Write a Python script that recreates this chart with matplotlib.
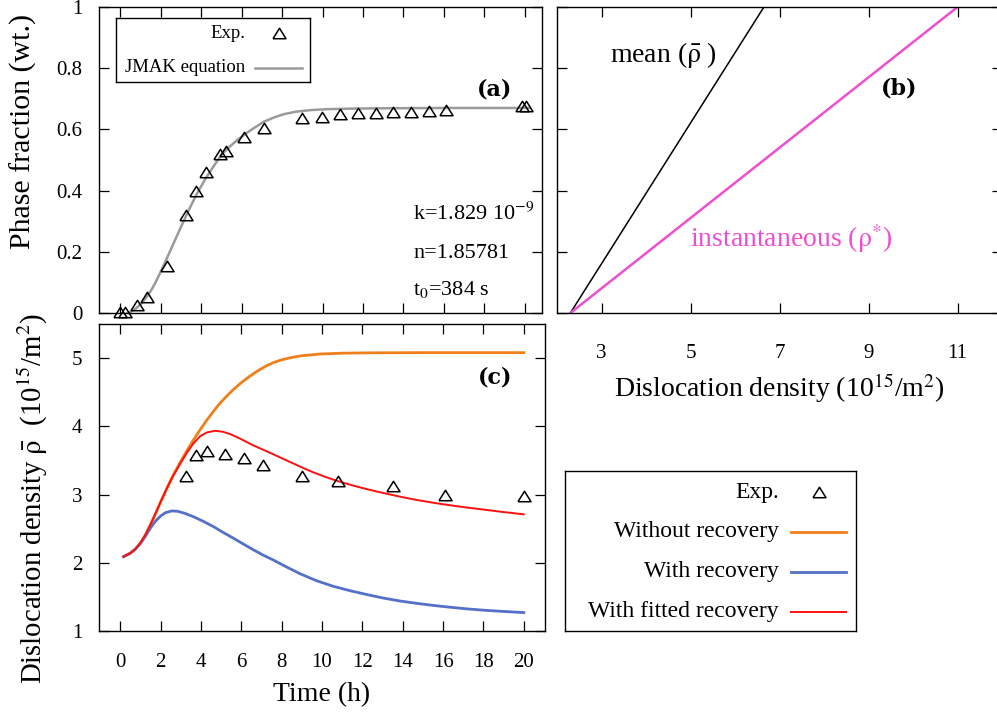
import matplotlib
matplotlib.use('Agg')
import matplotlib.pyplot as plt

plt.rcParams['font.family'] = 'Liberation Serif'
plt.rcParams['mathtext.fontset'] = 'stix'

W, H = 997, 715

# (a) phase fraction vs time
t_exp_a = [0.0, 0.25, 0.82, 1.32, 2.31, 3.27, 3.76, 4.26, 4.95, 5.21, 6.14, 7.1,
           8.99, 9.99, 10.86, 11.75, 12.62, 13.5, 14.39, 15.26, 16.12, 19.84, 20.05]
frac_exp = [0.003, 0.003, 0.026, 0.051, 0.155, 0.32, 0.399, 0.46, 0.52, 0.53, 0.576, 0.606,
            0.636, 0.642, 0.649, 0.653, 0.655, 0.658, 0.658, 0.661, 0.663, 0.676, 0.676]
t_jmak = [0.35, 0.6, 0.85, 1.1, 1.35, 1.6, 1.85, 2.0, 2.3, 2.64, 3.0, 3.4, 3.8, 4.2, 4.6,
          5.0, 5.4, 5.8, 6.2, 6.6, 7.1, 7.6, 8.1, 8.7, 9.4, 10.2, 11.5, 13.0, 16.0, 20.2]
frac_jmak = [0.0, 0.007, 0.019, 0.035, 0.056, 0.082, 0.114, 0.135, 0.178, 0.228, 0.281,
             0.338, 0.391, 0.437, 0.478, 0.517, 0.543, 0.566, 0.586, 0.604, 0.625, 0.639,
             0.650, 0.658, 0.663, 0.666, 0.668, 0.669, 0.67, 0.67]

# (b) phase fraction vs dislocation density
frac_b = [0.0, 1.0]
rho_mean = [2.3, 6.65]
rho_inst = [2.3, 11.0]

# (c) mean dislocation density vs time
t_exp_c = [3.27, 3.76, 4.29, 5.2, 6.15, 7.1, 8.99, 10.81, 13.5, 16.09, 20.0]
rho_exp = [3.275, 3.58, 3.64, 3.59, 3.53, 3.44, 3.27, 3.20, 3.13, 3.00, 2.98]

t_norec = [0.17, 0.5, 0.75, 1.0, 1.25, 1.5, 1.75, 2.0, 2.31, 2.6, 2.97, 3.3, 3.63, 3.96,
           4.29, 4.62, 4.95, 5.3, 5.61, 6.0, 6.4, 6.8, 7.2, 7.6, 8.0, 8.5, 9.0, 9.9,
           11.0, 12.5, 15.0, 20.0]
rho_norec = [2.09, 2.14, 2.20, 2.29, 2.41, 2.56, 2.72, 2.89, 3.09, 3.27, 3.47, 3.64, 3.80,
             3.95, 4.09, 4.22, 4.34, 4.45, 4.54, 4.64, 4.73, 4.81, 4.88, 4.935, 4.975,
             5.01, 5.035, 5.06, 5.072, 5.078, 5.08, 5.08]

t_rec = [0.17, 0.5, 0.75, 1.0, 1.25, 1.5, 1.75, 2.0, 2.25, 2.56, 2.85, 3.2, 3.63, 4.1,
         4.62, 5.1, 5.61, 6.1, 6.6, 7.1, 7.59, 8.2, 8.91, 9.7, 10.56, 11.4, 12.21, 13.0,
         13.86, 14.7, 15.51, 16.3, 17.16, 18.0, 18.81, 20.0]
rho_rec = [2.09, 2.14, 2.20, 2.28, 2.39, 2.51, 2.61, 2.685, 2.735, 2.76, 2.755, 2.725,
           2.675, 2.61, 2.53, 2.445, 2.36, 2.275, 2.19, 2.11, 2.04, 1.945, 1.84, 1.74,
           1.655, 1.59, 1.535, 1.485, 1.44, 1.405, 1.375, 1.35, 1.325, 1.305, 1.29, 1.27]

t_fit = [0.17, 0.5, 0.75, 1.0, 1.25, 1.5, 1.75, 2.0, 2.31, 2.6, 2.97, 3.3, 3.63, 3.96,
         4.29, 4.7, 5.1, 5.5, 5.94, 6.6, 7.1, 7.59, 8.1, 8.58, 9.1, 9.57, 10.2, 10.81,
         11.5, 12.21, 13.0, 13.86, 14.7, 15.51, 16.3, 17.16, 18.0, 18.81, 20.0]
rho_fit = [2.09, 2.14, 2.20, 2.29, 2.41, 2.56, 2.72, 2.89, 3.09, 3.26, 3.45, 3.61, 3.75,
           3.855, 3.91, 3.935, 3.92, 3.88, 3.82, 3.72, 3.655, 3.59, 3.52, 3.455, 3.385,
           3.325, 3.255, 3.195, 3.135, 3.08, 3.025, 2.97, 2.92, 2.88, 2.845, 2.81, 2.78,
           2.75, 2.71]

time_ticks = list(range(0, 21, 2))
frac_ticks = [0, 0.2, 0.4, 0.6, 0.8, 1]
frac_labels = ['0', '0.2', '0.4', '0.6', '0.8', '1']
rho_ticks = [3, 5, 7, 9, 11]
rho_c_ticks = [1, 2, 3, 4, 5]

GRAY = '#9a9a9a'
ORANGE = '#ef7f1a'
BLUE = '#5470c8'
RED = '#ff1010'
PINK = '#ee4fd0'

# open triangle, centred on its bounding box
tri = [(-1, -0.8), (1, -0.8), (0, 0.8), (-1, -0.8)]
tri_style = dict(marker=tri, ms=9.4, mfc='none', mec='black', mew=1.1, ls='none',
                 clip_on=False)


def px_rect(x0, y0, x1, y1):
    return [x0 / W, 1 - y1 / H, (x1 - x0) / W, (y1 - y0) / H]


def style(ax):
    ax.tick_params(direction='in', length=7.5, width=0.9, top=True, right=True,
                   labelsize=15, pad=12, colors='black')
    ax.tick_params(axis='x', pad=16)
    for s in ax.spines.values():
        s.set_linewidth(1.0)


def draw_key(box, rows, fontsize, text_right, samp0, samp1):
    kax = fig.add_axes(px_rect(*box))
    kax.set_xlim(box[0], box[2])
    kax.set_ylim(box[3], box[1])
    kax.set_xticks([])
    kax.set_yticks([])
    for s in kax.spines.values():
        s.set_linewidth(1.0)
    for y, label, color, lw in rows:
        kax.text(text_right, y, label, ha='right', va='center', fontsize=fontsize)
        if color is None:
            kax.plot([(samp0 + samp1) / 2], [y], **tri_style)
        else:
            kax.plot([samp0, samp1], [y, y], color=color, lw=lw)


fig = plt.figure(figsize=(W / 100, H / 100), dpi=100)

ax_a = fig.add_axes(px_rect(99, 7, 542, 313))
ax_b = fig.add_axes(px_rect(557, 7, 1002, 313))
ax_c = fig.add_axes(px_rect(99, 324, 545, 631))

panel_font = dict(fontsize=16, family='DejaVu Serif', weight='bold',
                  ha='center', va='center')

# (a)
ax_a.plot(t_jmak, frac_jmak, color=GRAY, lw=1.8)
ax_a.plot(t_exp_a, frac_exp, **tri_style)
ax_a.set_xlim(-1.05, 20.85)
ax_a.set_ylim(0, 1)
ax_a.set_xticks(time_ticks)
ax_a.set_yticks(frac_ticks)
ax_a.set_yticklabels(frac_labels)
style(ax_a)
ax_a.tick_params(labelbottom=False)
ax_a.set_ylabel('Phase fraction (wt.)', fontsize=21.5)
ax_a.yaxis.set_label_coords(-0.14, 0.593)
ax_a.text(0.894, 0.729, '(a)', transform=ax_a.transAxes, **panel_font)
ax_a.text(0.709, 0.304, r'k=1.829 10$^{-9}$', transform=ax_a.transAxes, fontsize=16)
ax_a.text(0.709, 0.180, 'n=1.85781', transform=ax_a.transAxes, fontsize=16)
ax_a.text(0.709, 0.059, r't$_0$=384 s', transform=ax_a.transAxes, fontsize=16)

# (b)
ax_b.plot(rho_mean, frac_b, color='black', lw=1.1)
ax_b.plot(rho_inst, frac_b, color=PINK, lw=1.8)
ax_b.set_xlim(2, 12)
ax_b.set_ylim(0, 1)
ax_b.set_xticks(rho_ticks)
ax_b.set_yticks(frac_ticks)
style(ax_b)
ax_b.tick_params(labelleft=False)
ax_b.tick_params(axis='x', pad=22)
ax_b.set_xlabel(r'Dislocation density (10$^{15}$/m$^{2}$)', fontsize=20)
ax_b.xaxis.set_label_coords(0.5, -0.19)
ax_b.text(0.119, 0.820, r'mean ($\bar{\mathrm{\rho}}$ )', transform=ax_b.transAxes,
          fontsize=20)
ax_b.text(0.299, 0.216, r'instantaneous ($\mathrm{\rho}^{*}$)', transform=ax_b.transAxes,
          fontsize=20, color=PINK)
ax_b.text(0.769, 0.735, '(b)', transform=ax_b.transAxes, **panel_font)

# (c)
ax_c.plot(t_norec, rho_norec, color=ORANGE, lw=2.0)
ax_c.plot(t_rec, rho_rec, color=BLUE, lw=2.0)
ax_c.plot(t_fit, rho_fit, color=RED, lw=1.4)
ax_c.plot(t_exp_c, rho_exp, **tri_style)
ax_c.set_xlim(-1.05, 21.05)
ax_c.set_ylim(1, 5.5)
ax_c.set_xticks(time_ticks)
ax_c.set_yticks(rho_c_ticks)
style(ax_c)
ax_c.set_xlabel('Time (h)', fontsize=20)
ax_c.xaxis.set_label_coords(0.5, -0.166)
ax_c.set_ylabel(r'Dislocation density $\bar{\mathrm{\rho}}$  (10$^{15}$/m$^{2}$)',
                fontsize=20.7)
ax_c.yaxis.set_label_coords(-0.11, 0.433)
ax_c.text(0.888, 0.827, '(c)', transform=ax_c.transAxes, **panel_font)

# keys
draw_key((116, 18, 310, 82),
         [(33, 'Exp.', None, 0), (68, 'JMAK equation', GRAY, 1.8)],
         13.5, 245, 255, 302)
draw_key((565, 471, 856, 631),
         [(492, 'Exp.', None, 0),
          (532, 'Without recovery', ORANGE, 2.0),
          (572, 'With recovery', BLUE, 2.0),
          (612, 'With fitted recovery', RED, 1.4)],
         17, 779, 791, 846)

fig.savefig('out.png', dpi=100)
